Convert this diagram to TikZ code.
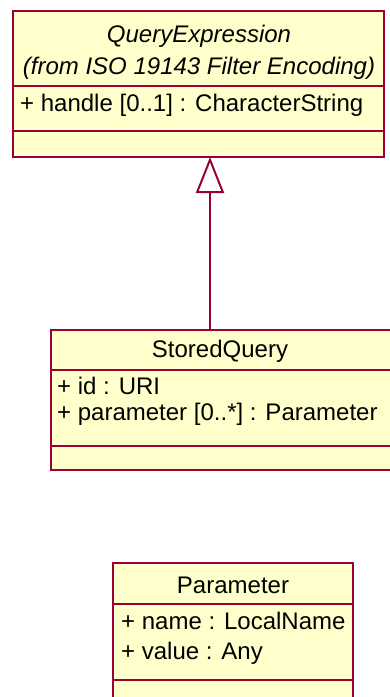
\documentclass[tikz,border=0pt]{standalone}
\usepackage{fontspec}
\setmainfont{Liberation Sans}
\usetikzlibrary{arrows.meta, positioning}
\definecolor{umlline}{RGB}{153,0,51}
\definecolor{umlfill}{RGB}{255,255,204}

\begin{document}
\begin{tikzpicture}[x=1pt, y=-1pt, font=\fontsize{24}{28}\selectfont,
	classbox/.style={draw=umlline, fill=umlfill, line width=2pt, rectangle, inner sep=0pt, outer sep=0pt, anchor=north west},
	compline/.style={draw=umlline, line width=2pt},
	title/.style={anchor=base, inner sep=0pt},
	attr/.style={anchor=base west, inner sep=0pt},
	gen/.style={draw=umlline, line width=2pt, -{Triangle[open, length=36pt, width=28pt]}}]

		\useasboundingbox (0,0) rectangle (389,697);

		% nodes - classes %
		\node[classbox, minimum width=371pt, minimum height=146pt] (qe) at (13,11) {};
		\node[classbox, minimum width=345pt, minimum height=140pt] (sq) at (51,330) {};
		\node[classbox, minimum width=240pt, minimum height=150pt] (par) at (113,563) {};

		% compartments %
		\draw[compline] (qe.west |- 0,86) -- (qe.east |- 0,86);
		\draw[compline] (qe.west |- 0,131) -- (qe.east |- 0,131);
		\draw[compline] (sq.west |- 0,370) -- (sq.east |- 0,370);
		\draw[compline] (sq.west |- 0,446) -- (sq.east |- 0,446);
		\draw[compline] (par.west |- 0,604) -- (par.east |- 0,604);
		\draw[compline] (par.west |- 0,680) -- (par.east |- 0,680);

		% texts %
		\node[title] (qename) at (199,42) {\itshape QueryExpression};
		\node[title] (qefrom) at (199,74) {\itshape (from ISO 19143 Filter Encoding)};
		\node[attr] (qehandle) at (20,111) {+ handle [0..1] : CharacterString};

		\node[title] (sqname) at (220,357) {StoredQuery};
		\node[attr] (sqid) at (57,394) {+ id : URI};
		\node[attr] (sqparam) at (57,420) {+ parameter [0..*] : Parameter};

		\node[title] (parname) at (233,593) {Parameter};
		\node[attr] (parlname) at (121,629) {+ name : LocalName};
		\node[attr] (parvalue) at (121,659) {+ value : Any};

		% edges %
		\coordinate (genx) at (210,0);
		\draw[gen] (sq.north -| genx) -- (qe.south -| genx);

\end{tikzpicture}
\end{document}
